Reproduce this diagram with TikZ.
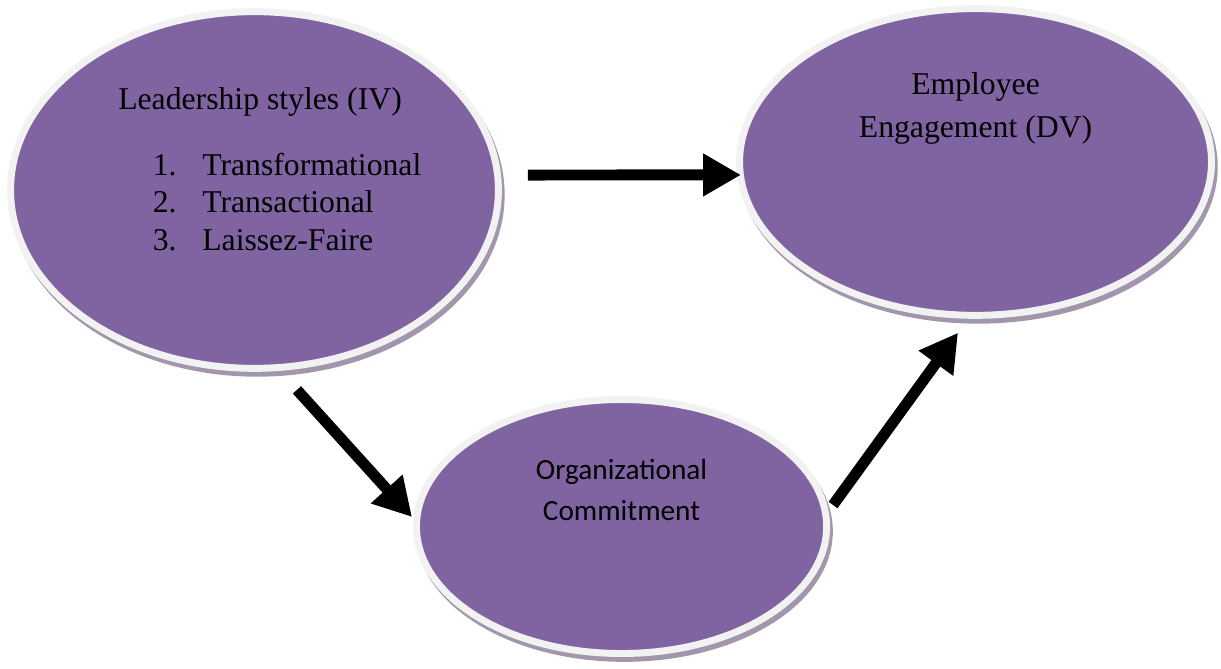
\documentclass[tikz,border=0pt]{standalone}
\usepackage{fontspec}
\newfontfamily\calibrifont{Carlito}
\newfontfamily\bookfont{Liberation Serif}
\usepackage{tikz}
\usetikzlibrary{arrows.meta, positioning, shapes.geometric, calc}
\definecolor{bubblepurple}{RGB}{128,100,162}
\definecolor{rimgray}{RGB}{242,242,242}
\definecolor{shadowgray}{RGB}{162,150,172}

\begin{document}
\begin{tikzpicture}[
    bubble/.style={
        ellipse, fill=bubblepurple, draw=rimgray, line width=0.1cm, inner sep=0pt,
        preaction={draw=shadowgray, fill=shadowgray, line width=0.1cm,
            transform canvas={shift={(0.04cm,-0.07cm)}}}
    },
    serifnote/.style={align=center, text=black, font=\bookfont\fontsize{13}{17.6}\selectfont},
    listnote/.style={align=left, text=black, font=\bookfont\fontsize{13}{15.4}\selectfont},
    sansnote/.style={align=center, text=black, font=\calibrifont\fontsize{12}{16.8}\selectfont},
    arrow/.style={draw, -{Triangle[length=15.5pt,width=16.5pt]}, line width=4.5pt, black}
]
\useasboundingbox (0,0) rectangle (17.594,-9.626);

\node [bubble, minimum width=7.03cm, minimum height=5.14cm] (lead)   at (3.667,-2.738) {};
\node [bubble, minimum width=6.80cm, minimum height=4.42cm] (engage) at (14.057,-2.334) {};
\node [bubble, minimum width=5.91cm, minimum height=3.66cm] (commit) at (8.956,-7.587) {};

\node [serifnote] (leadtitle) at ([xshift=0.08cm,yshift=1.27cm]lead.center) {Leadership styles (IV)};
\node [listnote] (leadlist) at ([xshift=0.47cm,yshift=-0.22cm]lead.center)
    {\begin{tabular}{@{}l@{\hspace{0.37cm}}l@{}}
     1. & Transformational\\
     2. & Transactional\\
     3. & Laissez-Faire
     \end{tabular}};
\node [serifnote] (engagetext) at ([yshift=0.77cm]engage.center) {Employee\\Engagement (DV)};
\node [sansnote] (committext) at ([yshift=0.53cm]commit.center) {Organizational\\Commitment};

\draw [arrow] ([xshift=0.375cm,yshift=0.216cm]lead.east) -- ([xshift=0.07cm,yshift=-0.187cm]engage.west);
\draw [arrow] ([xshift=0.612cm,yshift=-0.26cm]lead.south) -- ([xshift=-0.014cm,yshift=0.137cm]commit.west);
\draw [arrow] ([xshift=0.043cm,yshift=0.31cm]commit.east) -- ([xshift=-0.252cm,yshift=-0.20cm]engage.south);
\end{tikzpicture}
\end{document}
